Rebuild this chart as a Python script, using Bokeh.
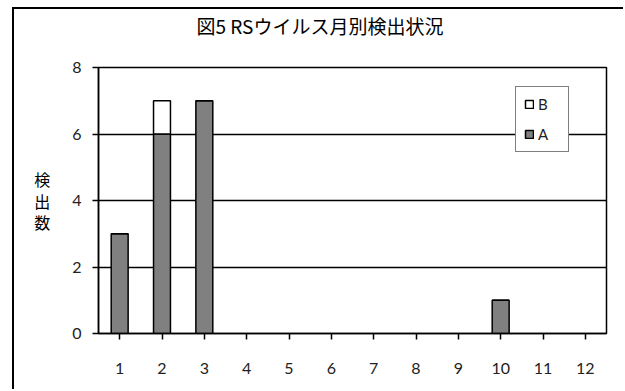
from bokeh.plotting import figure
from bokeh.models import ColumnDataSource, Legend, LegendItem, Title, FixedTicker
from bokeh.embed import file_html
from bokeh.resources import INLINE

months = ["1", "2", "3", "4", "5", "6", "7", "8", "9", "10", "11", "12"]
series_a = [3, 6, 7, 0, 0, 0, 0, 0, 0, 1, 0, 0]
series_b = [0, 1, 0, 0, 0, 0, 0, 0, 0, 0, 0, 0]
y_ticks = [0, 2, 4, 6, 8]
title_text = "図5 RSウイルス月別検出状況"
y_label = "検\n出\n数"

# only months with detections get a bar (zero-height bars are invisible in the original)
rows = [i for i in range(len(months)) if series_a[i] + series_b[i] > 0]
source = ColumnDataSource(dict(
    month=[months[i] for i in rows],
    A=[series_a[i] for i in rows],
    B=[series_b[i] for i in rows],
))

p = figure(
    x_range=months, y_range=(0, 8), title=None,
    width=611, height=382,
    min_border_left=84, min_border_right=19, min_border_top=58, min_border_bottom=58,
    output_backend="svg", toolbar_location=None,
    background_fill_color="white", border_fill_color="white",
)
p.styles = {"margin-left": "12px", "margin-top": "7px",
            "border-left": "2px solid black", "border-top": "2px solid black"}

rs = p.vbar_stack(["A", "B"], x="month", width=0.4, source=source,
                  fill_color=["#808080", "#ffffff"], line_color="black", line_width=1.5)

# invisible spacer between the plot frame and the title
spacer = Title(text=" ", standoff=26, text_font_size="1px", text_color="white")
p.add_layout(spacer, "above")
t = Title(text=title_text, align="left", offset=98, standoff=0,
          text_font="Noto Sans CJK JP", text_font_size="19px",
          text_font_style="normal", text_color="black")
p.add_layout(t, "above")

p.outline_line_color = "black"
p.outline_line_width = 1.5
p.xgrid.grid_line_color = None
p.ygrid.grid_line_color = "black"
p.ygrid.grid_line_width = 1.5
p.yaxis.ticker = FixedTicker(ticks=y_ticks)

for ax in (p.xaxis[0], p.yaxis[0]):
    ax.axis_line_color = "black"
    ax.axis_line_width = 1.5
    ax.major_tick_line_color = "black"
    ax.major_tick_line_width = 1.5
    ax.major_tick_out = 6
    ax.major_tick_in = 0
    ax.minor_tick_line_color = None
    ax.major_label_text_font = "Lato"
    ax.major_label_text_font_size = "16px"
    ax.major_label_text_color = "#222222"

p.xaxis.major_label_standoff = 23
p.yaxis.major_label_standoff = 11
p.yaxis.axis_label = y_label
p.yaxis.axis_label_orientation = "horizontal"
p.yaxis.axis_label_text_font = "Noto Sans CJK JP"
p.yaxis.axis_label_text_font_size = "16px"
p.yaxis.axis_label_text_font_style = "normal"
p.yaxis.axis_label_text_color = "black"
p.yaxis.axis_label_text_line_height = 0.9
p.yaxis.axis_label_standoff = 19

legend = Legend(
    items=[LegendItem(label="B", renderers=[rs[1]]), LegendItem(label="A", renderers=[rs[0]])],
    location=(417, 181), padding=8, spacing=12, label_width=22, label_standoff=4,
    glyph_width=10, glyph_height=10,
    label_text_font="Lato", label_text_font_size="15px", label_text_color="#222222",
    border_line_color="black", border_line_width=1.5, background_fill_color="white",
    background_fill_alpha=1.0,
)
p.add_layout(legend, "center")

open("out.html", "w").write(file_html(p, INLINE))
